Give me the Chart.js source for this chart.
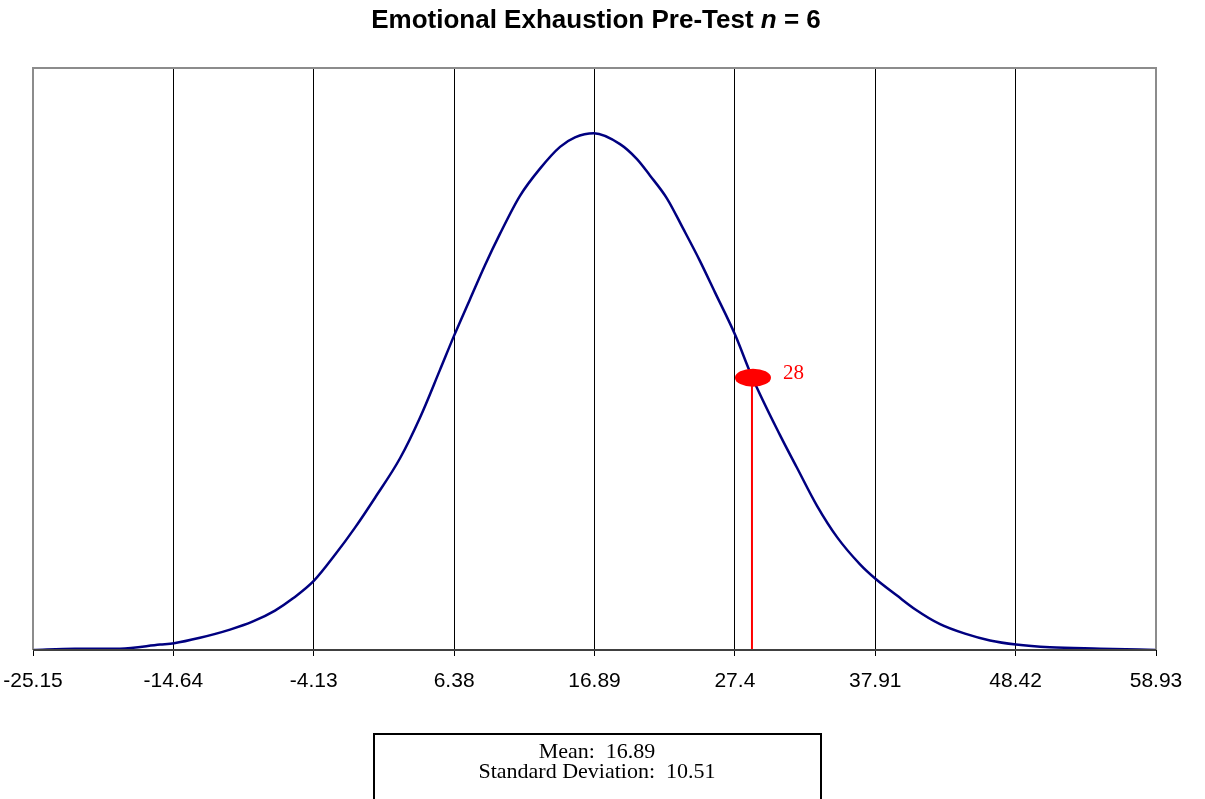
<!DOCTYPE html>
<html>
<head>
<meta charset="utf-8">
<script src="https://cdn.jsdelivr.net/npm/chart.js@4.4.1/dist/chart.umd.min.js"></script>
<style>
  html, body { margin: 0; padding: 0; background: #fff; }
  #wrap { position: relative; width: 1205px; height: 799px; overflow: hidden; }
</style>
</head>
<body>
<div id="wrap"><canvas id="chart" width="1205" height="799"></canvas></div>
<script>
// values
const curveX = [-25.15, -22.01, -18.64, -15.64, -14.59, -12.65, -10.40, -8.68, -7.03, -5.68,
  -4.11, -2.54, -1.04, 0.46, 2.33, 3.83, 5.32, 6.37, 7.57, 8.69, 9.81, 11.31, 12.81, 14.31,
  15.43, 16.85, 18.80, 20.07, 21.04, 22.32, 23.52, 24.79, 25.91, 27.41, 28.68, 30.78, 32.05,
  33.55, 35.05, 36.77, 37.97, 39.54, 40.89, 42.76, 44.63, 46.50, 48.45, 50.99, 54.74, 58.93];
const curveY = [0.0000, 0.0001, 0.0001, 0.0004, 0.0005, 0.0009, 0.0015, 0.0021, 0.0029, 0.0038,
  0.0051, 0.0070, 0.0090, 0.0112, 0.0141, 0.0171, 0.0206, 0.0231, 0.0258, 0.0283, 0.0306, 0.0334,
  0.0354, 0.0370, 0.0377, 0.0380, 0.0372, 0.0361, 0.0349, 0.0332, 0.0310, 0.0286, 0.0263, 0.0232,
  0.0201, 0.0158, 0.0134, 0.0106, 0.0083, 0.0063, 0.0052, 0.0040, 0.0030, 0.0019, 0.0012, 0.0007,
  0.0004, 0.0002, 0.0001, 0.0000];
const tickValues = [-25.15, -14.64, -4.13, 6.38, 16.89, 27.4, 37.91, 48.42, 58.93];
const tickLabels = ["-25.15", "-14.64", "-4.13", "6.38", "16.89", "27.4", "37.91", "48.42", "58.93"];
const scoreX = 28.68;
const scoreY = 0.0201;
const scoreLabel = "28";
const statLines = ["Mean:  16.89", "Standard Deviation:  10.51"];

const curveData = curveX.map((x, i) => ({ x: x, y: curveY[i] }));

const extras = {
  id: 'extras',
  afterDatasetsDraw(chart) {
    const ctx = chart.ctx;
    const xs = chart.scales.x, ys = chart.scales.y;
    const a = chart.chartArea;

    // plot border
    ctx.save();
    ctx.strokeStyle = '#8c8c8c';
    ctx.lineWidth = 2;
    ctx.beginPath();
    ctx.moveTo(a.left, a.bottom);
    ctx.lineTo(a.left, a.top);
    ctx.lineTo(a.right, a.top);
    ctx.lineTo(a.right, a.bottom);
    ctx.stroke();
    ctx.strokeStyle = '#404040';
    ctx.beginPath();
    ctx.moveTo(a.left, a.bottom);
    ctx.lineTo(a.right, a.bottom);
    ctx.stroke();

    // score marker
    const px = xs.getPixelForValue(scoreX), py = ys.getPixelForValue(scoreY);
    ctx.fillStyle = '#ff0000';
    ctx.beginPath();
    ctx.ellipse(px + 1, py + 1, 18, 9, 0, 0, Math.PI * 2);
    ctx.fill();
    ctx.font = '21px "Liberation Serif", "Times New Roman", serif';
    ctx.textBaseline = 'middle';
    ctx.textAlign = 'left';
    ctx.fillText(scoreLabel, px + 31, py - 3);

    // title with italic n
    const parts = [
      { t: 'Emotional Exhaustion Pre-Test ', f: 'bold 26px "Liberation Sans", Arial, sans-serif' },
      { t: 'n', f: 'italic bold 26px "Liberation Sans", Arial, sans-serif' },
      { t: ' = 6', f: 'bold 26px "Liberation Sans", Arial, sans-serif' }
    ];
    let total = 0;
    parts.forEach(p => { ctx.font = p.f; p.w = ctx.measureText(p.t).width; total += p.w; });
    let tx = 596 - total / 2;
    ctx.fillStyle = '#000';
    ctx.textBaseline = 'middle';
    parts.forEach(p => { ctx.font = p.f; ctx.fillText(p.t, tx, 21); tx += p.w; });

    // stats box
    ctx.strokeStyle = '#000';
    ctx.lineWidth = 2;
    ctx.strokeRect(374, 734, 447, 80);
    ctx.font = '22px "Liberation Serif", "Times New Roman", serif';
    ctx.textAlign = 'center';
    ctx.fillText(statLines[0], 597, 752);
    ctx.fillText(statLines[1], 597, 772);
    ctx.restore();
  }
};

new Chart(document.getElementById('chart'), {
  type: 'scatter',
  data: {
    datasets: [
      {
        data: curveData,
        showLine: true,
        borderColor: '#000080',
        borderWidth: 2.5,
        pointRadius: 0,
        cubicInterpolationMode: 'monotone',
        order: 2
      },
      {
        data: [{ x: scoreX, y: 0 }, { x: scoreX, y: scoreY }],
        showLine: true,
        borderColor: '#ff0000',
        borderWidth: 2,
        pointRadius: 0,
        order: 1
      }
    ]
  },
  options: {
    responsive: false,
    animation: false,
    layout: { padding: { left: 33, right: 49, top: 68, bottom: 109 } },
    plugins: { legend: { display: false }, tooltip: { enabled: false }, title: { display: false } },
    scales: {
      x: {
        type: 'linear',
        min: -25.15,
        max: 58.93,
        afterBuildTicks(scale) { scale.ticks = tickValues.map(v => ({ value: v })); },
        afterFit(scale) {
          scale.height = 40;
          scale.paddingLeft = 0;
          scale.paddingRight = 0;
        },
        grid: { color: '#000', lineWidth: 1, tickLength: 6, drawTicks: true },
        border: { display: false },
        ticks: {
          autoSkip: false,
          maxRotation: 0,
          color: '#000',
          padding: 13,
          font: { family: '"Liberation Sans", Arial, sans-serif', size: 21 },
          callback(v, i) { return tickLabels[i]; }
        }
      },
      y: {
        display: false,
        min: 0,
        max: 0.0428
      }
    }
  },
  plugins: [extras]
});
</script>
</body>
</html>
